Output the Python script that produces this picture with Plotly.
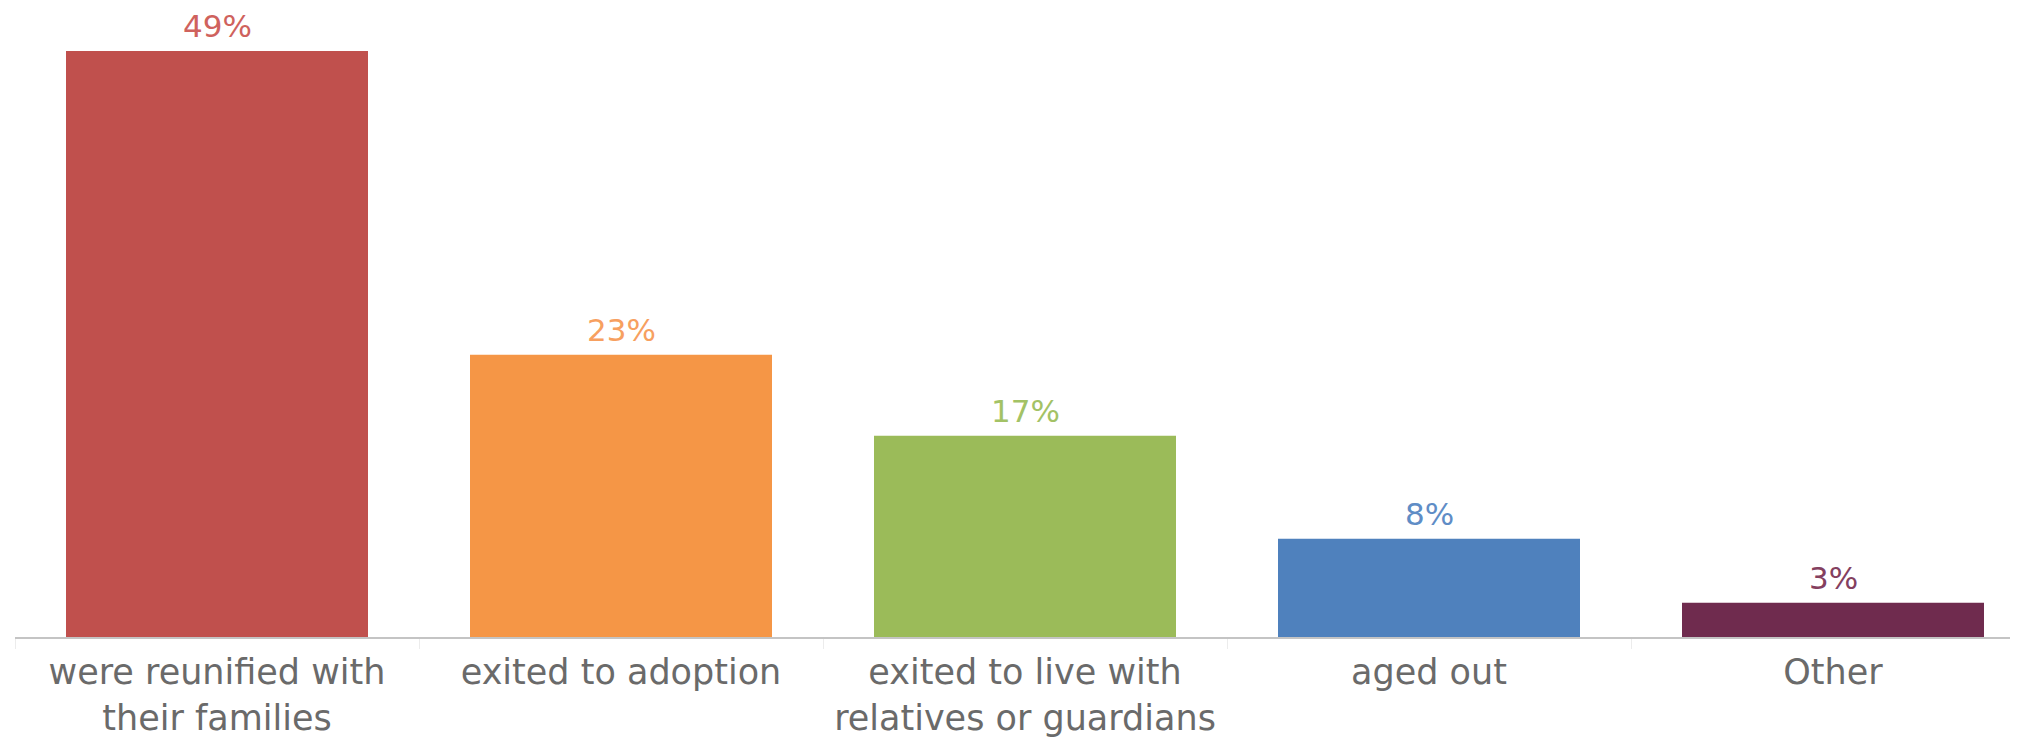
import plotly.graph_objects as go

categories = ["were reunified with<br>their families", "exited to adoption",
              "exited to live with<br>relatives or guardians", "aged out", "Other"]
values = [48.7, 23.45, 16.73, 8.17, 2.85]
colors = ["#C0504D", "#F59646", "#9BBB59", "#4F81BD", "#6F2B4E"]
label_colors = ["#CF625D", "#F7A060", "#A3C265", "#5F8DC6", "#84405F"]
labels = [f"{v:.0f}%" for v in values]

# page body has an 8px margin, so the figure is 8px smaller than the window
W, H = 2010, 731
ml, mr, mt, mb = 7, 0, 0, 102
cat_px = 404
plot_w = W - ml - mr
x_range = [-0.5, -0.5 + plot_w / cat_px]
px_per_unit = 586 / 48.7
y_top = (H - mt - mb) / px_per_unit

fig = go.Figure()
fig.add_trace(go.Bar(
    x=categories, y=values,
    marker=dict(color=colors, line=dict(width=0)),
    hoverinfo="skip",
))

for c, v, t, col in zip(categories, values, labels, label_colors):
    fig.add_annotation(x=c, y=v, text=t, showarrow=False, yanchor="bottom",
                       yshift=6, borderpad=0,
                       font=dict(family="DejaVu Sans", size=31, color=col))

fig.update_layout(
    width=W, height=H, autosize=False,
    margin=dict(l=ml, r=mr, t=mt, b=mb, pad=0),
    paper_bgcolor="white", plot_bgcolor="white",
    bargap=1 - 302 / 404,
    showlegend=False,
)
fig.update_xaxes(
    range=x_range, showgrid=False, zeroline=False,
    showline=True, linecolor="#c4c4c4", linewidth=2,
    ticks="outside", tickson="boundaries", ticklen=10, tickcolor="#ececec", tickwidth=1,
    ticklabelstandoff=3,
    tickfont=dict(family="DejaVu Sans", size=35, color="#6a6a6a"),
)
fig.update_yaxes(range=[0, y_top], visible=False, showgrid=False, zeroline=False)

fig.write_html("out.html")
